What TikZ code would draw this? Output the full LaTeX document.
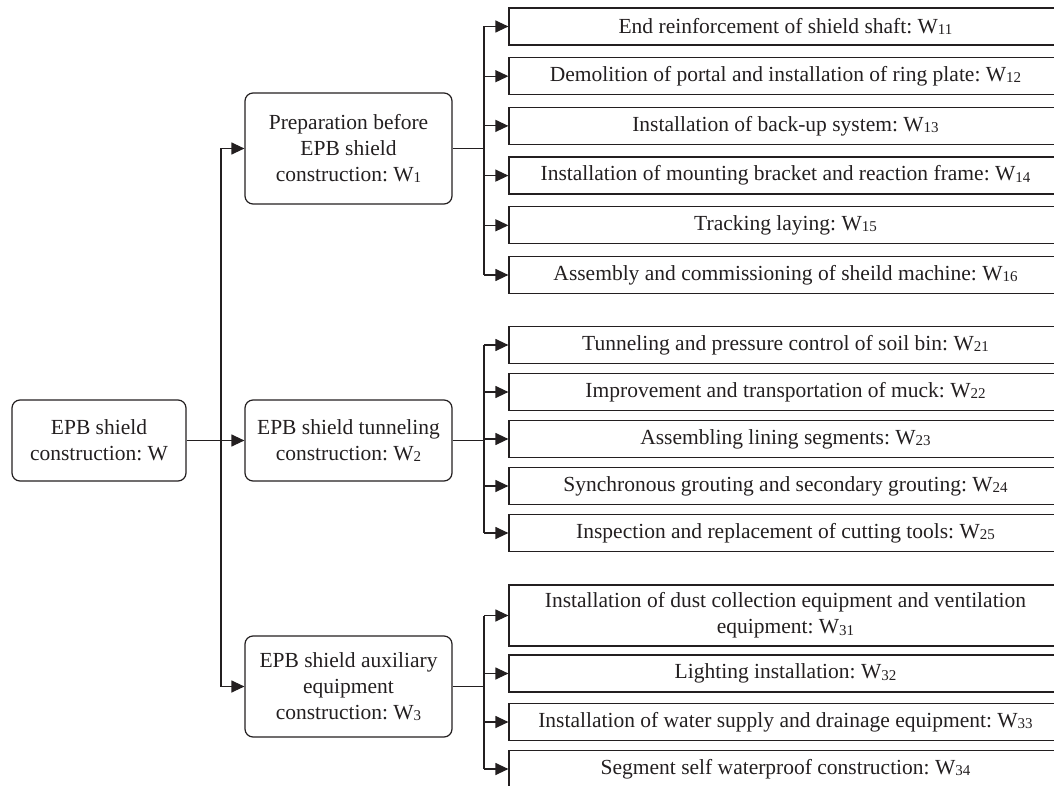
\documentclass[tikz,border=0pt]{standalone}
\usepackage{fontspec}
\setmainfont{Liberation Serif}
\usetikzlibrary{arrows.meta, positioning}
\definecolor{ink}{HTML}{231F20}
\newcommand{\wsub}[1]{\raisebox{-0.15ex}{\fontsize{15}{15}\selectfont #1}}
\frenchspacing

\begin{document}
\begin{tikzpicture}[
x=1pt, y=-1pt,
node distance=49.7pt,
line width=1.2pt, draw=ink, color=ink,
every node/.style={align=center, inner sep=0pt, text=ink, font=\fontsize{21.5}{26}\selectfont},
stage/.style={draw, rounded corners=8pt, minimum width=207pt},
task/.style={draw, rectangle, minimum width=553pt, minimum height=37pt},
arrow/.style={-{Triangle[length=13pt,width=12pt]}}
]
\useasboundingbox (0,0) rectangle (1054,786);

% stages
\node (w) [stage, minimum width=174pt, minimum height=81pt] at (99,440.5) {EPB shield\\construction: W};
\node (w1) [stage, minimum height=111pt] at (348.5,148.5) {Preparation before\\EPB shield\\construction: W\wsub{1}};
\node (w2) [stage, minimum height=81pt] at (348.5,440.5) {EPB shield tunneling\\construction: W\wsub{2}};
\node (w3) [stage, minimum height=101pt] at (348.5,686.5) {EPB shield auxiliary\\equipment\\construction: W\wsub{3}};

% tasks of W1
\node (w11) [task] at (785.5,26.5) {End reinforcement of shield shaft: W\wsub{11}};
\node (w12) [task, below of=w11] {Demolition of portal and installation of ring plate: W\wsub{12}};
\node (w13) [task, below of=w12] {Installation of back-up system: W\wsub{13}};
\node (w14) [task, below of=w13] {Installation of mounting bracket and reaction frame: W\wsub{14}};
\node (w15) [task, below of=w14] {Tracking laying: W\wsub{15}};
\node (w16) [task, below of=w15] {Assembly and commissioning of sheild machine: W\wsub{16}};

% tasks of W2
\begin{scope}[node distance=47pt]
\node (w21) [task] at (785.5,345) {Tunneling and pressure control of soil bin: W\wsub{21}};
\node (w22) [task, below of=w21] {Improvement and transportation of muck: W\wsub{22}};
\node (w23) [task, below of=w22] {Assembling lining segments: W\wsub{23}};
\node (w24) [task, below of=w23] {Synchronous grouting and secondary grouting: W\wsub{24}};
\node (w25) [task, below of=w24] {Inspection and replacement of cutting tools: W\wsub{25}};
\end{scope}

% tasks of W3
\node (w31) [task, minimum height=61pt] at (785.5,615.5) {Installation of dust collection equipment and ventilation\\equipment: W\wsub{31}};
\node (w32) [task, below of=w31, node distance=58pt] {Lighting installation: W\wsub{32}};
\node (w33) [task, below of=w32, node distance=48.5pt] {Installation of water supply and drainage equipment: W\wsub{33}};
\node (w34) [task, below of=w33, node distance=47pt] {Segment self waterproof construction: W\wsub{34}};

\coordinate (trunk) at (221,0);
\coordinate (b1) at (484,0);

% root to stages
\draw[arrow] (w) -- (w2);
\draw (trunk |- w1.west) -- (trunk |- w3.west);
\draw[arrow] (trunk |- w1.west) -- (w1);
\draw[arrow] (trunk |- w3.west) -- (w3);

% stages to tasks
\draw (w1) -- (b1 |- w1.east);
\draw (b1 |- w11.west) -- (b1 |- w16.west);
\foreach \n in {11,...,16}
  \draw[arrow] (b1 |- w\n.west) -- (w\n);

\draw (w2) -- (b1 |- w2.east);
\draw (b1 |- w21.west) -- (b1 |- w25.west);
\foreach \n in {21,...,25}
  \draw[arrow] (b1 |- w\n.west) -- (w\n);

\draw (w3) -- (b1 |- w3.east);
\draw (b1 |- w31.west) -- (b1 |- w34.west);
\foreach \n in {31,...,34}
  \draw[arrow] (b1 |- w\n.west) -- (w\n);

\end{tikzpicture}
\end{document}
